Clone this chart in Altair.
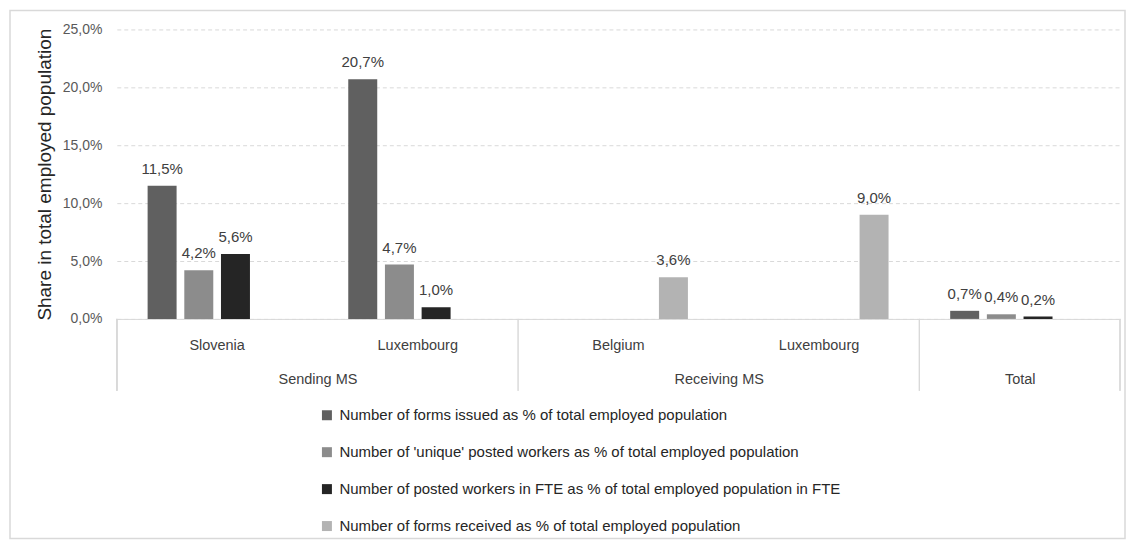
import altair as alt
import pandas as pd

series = [
    "Number of forms issued as % of total employed population",
    "Number of 'unique' posted workers as % of total employed population",
    "Number of posted workers in FTE as % of total employed population in FTE",
    "Number of forms received as % of total employed population",
]
colors = ["#606060", "#8c8c8c", "#252525", "#b3b3b3"]

groups = ["Sending MS", "Sending MS", "Receiving MS", "Receiving MS", "Total"]
countries = ["Slovenia", "Luxembourg", "Belgium", "Luxembourg", "Total"]
forms_issued = [11.5, 20.7, None, None, 0.7]
unique_workers = [4.2, 4.7, None, None, 0.4]
fte_workers = [5.6, 1.0, None, None, 0.2]
forms_received = [None, None, 3.6, 9.0, None]

rows = []
for i in range(len(countries)):
    for s, vals in zip(series, [forms_issued, unique_workers, fte_workers, forms_received]):
        if vals[i] is not None:
            rows.append({"group": groups[i], "country": countries[i], "series": s, "pct": vals[i]})
df = pd.DataFrame(rows)

FONT = "Liberation Sans"
TXT = "#404040"
H = 290
TOTAL_W = 1005

def panel(group, width, show_y, labels=True, right_rule=False, frame=False):
    sub = df[df["group"] == group]
    cats = [c for g, c in zip(groups, countries) if g == group]
    base = alt.Chart(sub).transform_calculate(
        v="datum.pct / 100",
        lab="replace(format(datum.pct / 100, '.1%'), '.', ',')",
    )
    x = alt.X(
        "country:N",
        sort=cats,
        scale=alt.Scale(domain=cats, paddingInner=0, paddingOuter=0),
        axis=alt.Axis(
            title=group,
            labels=labels,
            ticks=False,
            domain=True,
            domainColor="#d9d9d9",
            labelAngle=0,
            labelFontSize=14.5,
            labelColor=TXT,
            labelFont=FONT,
            labelPadding=20,
            titleFont=FONT,
            titleFontSize=14.5,
            titleFontWeight="normal",
            titleColor=TXT,
            titleY=61,
            titleBaseline="middle",
        ),
    )
    if show_y:
        yaxis = alt.Axis(
            title="Share in total employed population",
            titleFont=FONT,
            titleFontSize=19,
            titleFontWeight="normal",
            titleColor="#262626",
            titlePadding=8,
            values=[0, 0.05, 0.10, 0.15, 0.20, 0.25],
            labelExpr="replace(format(datum.value, '.1%'), '.', ',')",
            labelFont=FONT,
            labelFontSize=14,
            labelColor="#595959",
            labelPadding=15,
            ticks=False,
            domain=False,
            grid=True,
            gridColor="#d9d9d9",
            gridDash=[4, 3],
        )
    else:
        yaxis = alt.Axis(
            title=None,
            labels=False,
            ticks=False,
            domain=False,
            values=[0, 0.05, 0.10, 0.15, 0.20, 0.25],
            grid=True,
            gridColor="#d9d9d9",
            gridDash=[4, 3],
        )
    y = alt.Y("v:Q", scale=alt.Scale(domain=[0, 0.25], nice=False), axis=yaxis)
    xo = alt.XOffset(
        "series:N",
        sort=series,
        scale=alt.Scale(domain=series, paddingInner=0.21, paddingOuter=0.84),
    )
    color = alt.Color(
        "series:N",
        sort=series,
        scale=alt.Scale(domain=series, range=colors),
        legend=alt.Legend(title=None),
    )
    layers = []
    if frame:
        layers.append(
            alt.Chart(pd.DataFrame({"k": [0]}))
            .mark_rect(fillOpacity=0, stroke="#d9d9d9", strokeWidth=1.5)
            .encode(
                x=alt.value(-107), x2=alt.value(TOTAL_W + 5),
                y=alt.value(-19), y2=alt.value(510),
            )
        )
    bars = base.mark_bar().encode(x=x, xOffset=xo, y=y, color=color)
    text = base.mark_text(
        baseline="bottom", dy=-9, font=FONT, fontSize=15, color=TXT
    ).encode(x=x, xOffset=xo, y=y, text="lab:N")
    rule_l = alt.Chart(sub).mark_rule(color="#d9d9d9").encode(
        x=alt.value(0), y=alt.value(H), y2=alt.value(H + 72)
    )
    layers += [bars, text, rule_l]
    if right_rule:
        rule_r = alt.Chart(sub).mark_rule(color="#d9d9d9").encode(
            x=alt.value(width), y=alt.value(H), y2=alt.value(H + 72)
        )
        layers.append(rule_r)
    return alt.layer(*layers).properties(width=width, height=H)


p1 = panel("Sending MS", 402, True, frame=True)
p2 = panel("Receiving MS", 402, False)
p3 = panel("Total", 201, False, labels=False, right_rule=True)

chart = (
    alt.hconcat(p1, p2, p3, spacing=0, bounds="flush")
    .resolve_scale(x="independent")
    .properties(padding={"left": 1, "top": 1, "right": 0, "bottom": 0})
    .configure_view(stroke=None)
    .configure_legend(
        orient="none",
        legendX=203,
        legendY=379,
        direction="vertical",
        symbolType="square",
        symbolSize=100,
        symbolStrokeWidth=0,
        labelFont=FONT,
        labelFontSize=15,
        labelColor="#262626",
        labelLimit=700,
        rowPadding=21,
        padding=0,
        labelOffset=5,
    )
)

chart.save("out.html", embed_options={"renderer": "svg", "actions": False})
